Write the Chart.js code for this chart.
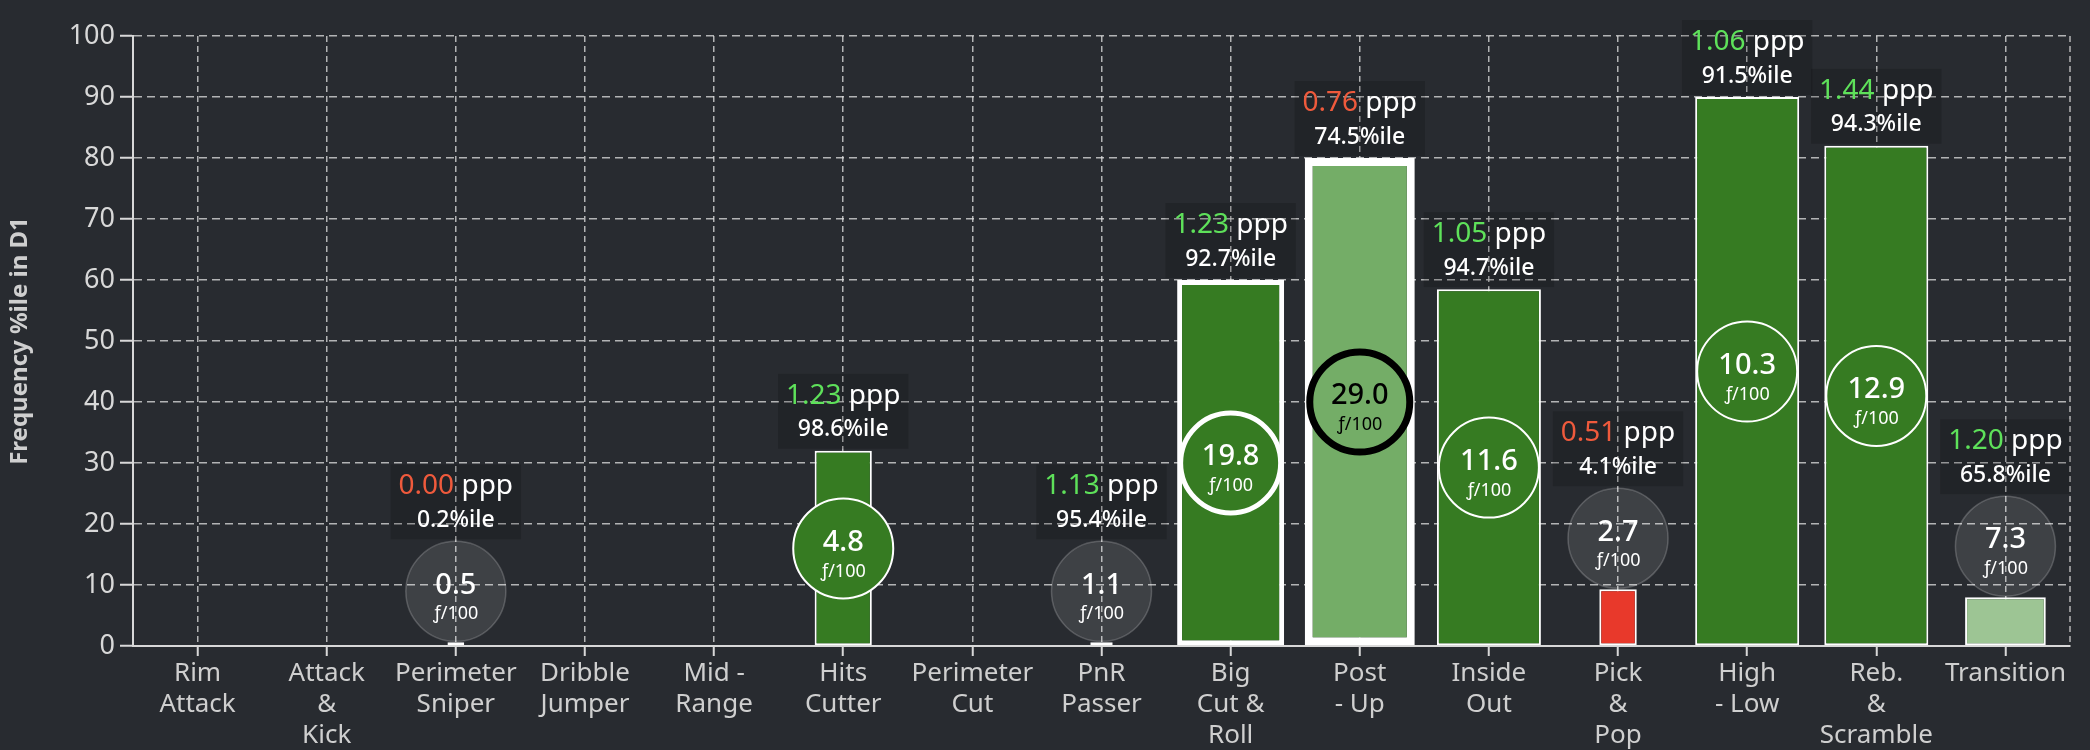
<!DOCTYPE html>
<html>
<head>
<meta charset="utf-8">
<script src="https://cdn.jsdelivr.net/npm/chart.js@4.4.1/dist/chart.umd.min.js"></script>
<style>
  html, body { margin: 0; padding: 0; background: #282b30; }
  #chart { display: block; background: #282b30; }
</style>
</head>
<body>
<canvas id="chart" width="2090" height="750"></canvas>
<script>
// play types along the x axis (multi-line labels)
const categories = [
  ["Rim", "Attack"], ["Attack", "&", "Kick"], ["Perimeter", "Sniper"], ["Dribble", "Jumper"],
  ["Mid -", "Range"], ["Hits", "Cutter"], ["Perimeter", "Cut"], ["PnR", "Passer"],
  ["Big", "Cut &", "Roll"], ["Post", "- Up"], ["Inside", "Out"], ["Pick", "&", "Pop"],
  ["High", "- Low"], ["Reb.", "&", "Scramble"], ["Transition"]
];
// bar height: frequency percentile in D1
const freqPctile = [null, null, 0.6, null, null, 32, null, 0.6, 60, 80, 58.5, 9.3, 90, 82, 8];
// possessions per 100 (circle value)
const freqPer100 = [null, null, 0.5, null, null, 4.8, null, 1.1, 19.8, 29.0, 11.6, 2.7, 10.3, 12.9, 7.3];
// points per possession and its percentile
const ppp = [null, null, 0.00, null, null, 1.23, null, 1.13, 1.23, 0.76, 1.05, 0.51, 1.06, 1.44, 1.20];
const pppPctile = [null, null, 0.2, null, null, 98.6, null, 95.4, 92.7, 74.5, 94.7, 4.1, 91.5, 94.3, 65.8];
const yTicks = [0, 10, 20, 30, 40, 50, 60, 70, 80, 90, 100];

// styling
const FONT = "'Noto Sans', 'Open Sans', sans-serif";
const gridColor = 'rgba(225,225,225,0.75)';
const axisColor = '#d8d8d8';
const labelColor = '#cfcfcf';
const barBorderWidth = [2, 2, 2, 2, 2, 2, 2, 2, 5, 8, 2, 2, 2, 2, 2];
const circleBorder = [null, null, null, null, null, null, null, null,
  ['#ffffff', 5], ['#000000', 7], null, null, null, null, null];
const R = 50;

function pctColor(p) {
  if (p >= 85) return '#367b22';
  if (p >= 70) return '#74ad67';
  if (p >= 50) return '#9dc594';
  return '#e8392b';
}
function barFrac(f) {
  return Math.min(0.79, 0.078 + 0.0728 * f);
}

const datasets = categories.map((c, i) => ({
  data: categories.map((_, j) => (j === i ? freqPctile[i] : null)),
  backgroundColor: pppPctile[i] == null ? 'transparent' : pctColor(pppPctile[i]),
  borderColor: '#ffffff',
  borderWidth: barBorderWidth[i],
  borderSkipped: false,
  grouped: false,
  categoryPercentage: 1,
  barPercentage: freqPer100[i] == null ? 0.5 : barFrac(freqPer100[i]) + barBorderWidth[i] / 129
}));

const overlay = {
  id: 'overlay',
  afterDatasetsDraw(chart) {
    const ctx = chart.ctx;
    const xs = chart.scales.x, ys = chart.scales.y, area = chart.chartArea;
    ctx.save();
    ctx.setLineDash([6, 4]);
    ctx.strokeStyle = gridColor;
    ctx.lineWidth = 1.5;
    ctx.beginPath();
    ctx.moveTo(area.right, area.top);
    ctx.lineTo(area.right, area.bottom);
    ctx.stroke();
    ctx.restore();

    categories.forEach((c, i) => {
      if (freqPctile[i] == null) return;
      const cx = xs.getPixelForValue(i);
      const top = ys.getPixelForValue(freqPctile[i]);
      const h = ys.getPixelForValue(0) - top;
      const inside = h >= 2 * R + 6;
      const cy = inside ? top + h / 2 : top - R - 1;
      const fill = pctColor(pppPctile[i]);

      // circle
      ctx.save();
      ctx.beginPath();
      ctx.arc(cx, cy, R, 0, Math.PI * 2);
      let textColor = '#ffffff';
      if (inside) {
        ctx.fillStyle = fill;
        ctx.fill();
        const cb = circleBorder[i] || ['#ffffff', 2];
        ctx.strokeStyle = cb[0];
        ctx.lineWidth = cb[1];
        if (cb[0] === '#000000') textColor = '#000000';
      } else {
        ctx.fillStyle = 'rgba(255,255,255,0.1)';
        ctx.fill();
        ctx.strokeStyle = 'rgba(255,255,255,0.2)';
        ctx.lineWidth = 1.5;
      }
      ctx.stroke();
      ctx.fillStyle = textColor;
      ctx.textAlign = 'center';
      ctx.textBaseline = 'middle';
      ctx.font = '500 29px ' + FONT;
      ctx.fillText(freqPer100[i].toFixed(1), cx, cy - 6);
      ctx.font = '18px ' + FONT;
      ctx.fillText('\u0192/100', cx, cy + 23);
      ctx.restore();

      // ppp box
      const boxBottom = (inside ? top : cy - R) - 2;
      const numTxt = ppp[i].toFixed(2);
      const pctTxt = pppPctile[i].toFixed(1) + '%ile';
      ctx.save();
      ctx.font = '28px ' + FONT;
      const wNum = ctx.measureText(numTxt).width;
      const wPpp = ctx.measureText(' ppp').width;
      const w1 = wNum + wPpp;
      ctx.font = '500 23px ' + FONT;
      const w2 = ctx.measureText(pctTxt).width;
      const bw = Math.max(w1, w2) + 16;
      const bh = 75;
      const bTop = boxBottom - bh;
      ctx.fillStyle = 'rgba(0,0,0,0.17)';
      ctx.fillRect(cx - bw / 2, bTop, bw, bh);
      ctx.textBaseline = 'middle';
      ctx.textAlign = 'left';
      ctx.font = '28px ' + FONT;
      ctx.fillStyle = ppp[i] >= 1 ? '#5ee15a' : '#ef5a3c';
      ctx.fillText(numTxt, cx - w1 / 2, bTop + 22);
      ctx.fillStyle = '#ffffff';
      ctx.fillText(' ppp', cx - w1 / 2 + wNum, bTop + 22);
      ctx.textAlign = 'center';
      ctx.font = '500 23px ' + FONT;
      ctx.fillText(pctTxt, cx, bTop + 56);
      ctx.restore();
    });
  }
};

new Chart(document.getElementById('chart'), {
  type: 'bar',
  data: { labels: categories, datasets: datasets },
  options: {
    responsive: false,
    animation: false,
    devicePixelRatio: 1,
    layout: { padding: { top: 36, right: 20, left: 0, bottom: 0 } },
    plugins: { legend: { display: false }, tooltip: { enabled: false } },
    scales: {
      x: {
        grid: { offset: false, color: gridColor, lineWidth: 1.5, tickLength: 10, tickColor: axisColor, tickWidth: 2 },
        border: { color: axisColor, width: 2, dash: [6, 4] },
        ticks: { color: labelColor, font: { family: FONT, size: 26 }, padding: 2, maxRotation: 0, autoSkip: false },
        afterFit: s => { s.height = 104; }
      },
      y: {
        min: 0,
        max: 100,
        afterBuildTicks: s => { s.ticks = yTicks.map(v => ({ value: v })); },
        grid: { color: gridColor, lineWidth: 1.5, tickLength: 13, tickColor: axisColor, tickWidth: 2 },
        border: { color: axisColor, width: 2, dash: [8, 5] },
        ticks: { color: axisColor, font: { family: FONT, size: 27 }, padding: 5 },
        title: {
          display: true,
          text: 'Frequency %ile in D1',
          color: labelColor,
          font: { family: FONT, size: 24, weight: 'bold' },
          padding: { top: 6, bottom: 0 }
        },
        afterFit: s => { s.width = 133; }
      }
    }
  },
  plugins: [overlay]
});
</script>
</body>
</html>
